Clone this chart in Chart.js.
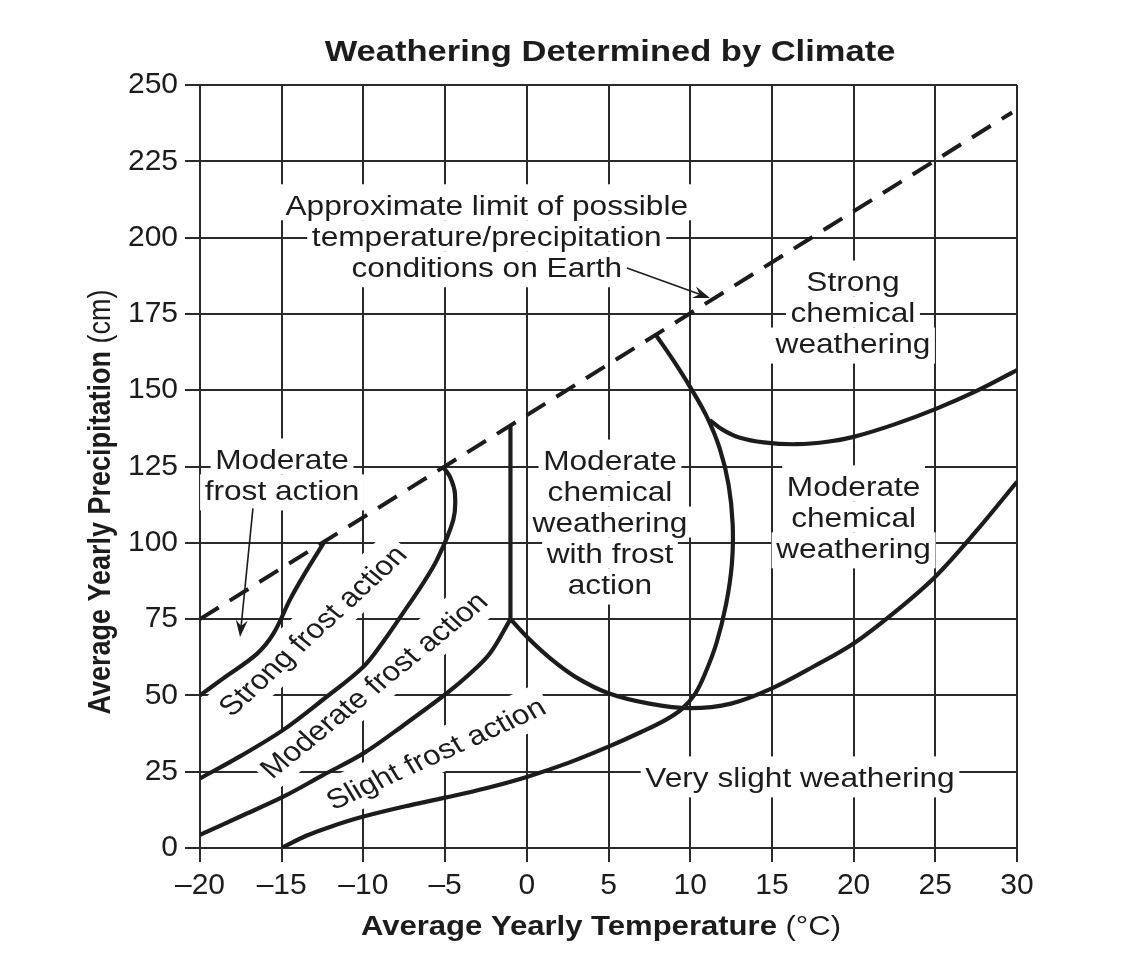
<!DOCTYPE html>
<html>
<head>
<meta charset="utf-8">
<script src="https://cdn.jsdelivr.net/npm/chart.js@4.4.0/dist/chart.umd.min.js"></script>
<style>
  html, body { margin: 0; padding: 0; background: #fff; }
  #wrap { width: 1142px; height: 954px; }
</style>
</head>
<body>
<div id="wrap"><canvas id="chart"></canvas></div>
<script>
// tick labels
const xTickLabels = ['\u201320', '\u201315', '\u201310', '\u20135', '0', '5', '10', '15', '20', '25', '30'];
const yTickLabels = ['0', '25', '50', '75', '100', '125', '150', '175', '200', '225', '250'];

// boundary lines (x = deg C, y = cm)
const limitX = [-20, 29.7];
const limitY = [75, 241];

const strongModX = [-20, -18.6, -16.5, -15.5, -14.5, -13.7, -12.4];
const strongModY = [50, 55.5, 63.7, 70.3, 81.3, 88.9, 100.2];

const strongFrostX = [-20, -17.5, -14.9, -12.5, -10, -8.8, -7.6, -6.5, -5.5, -4.5, -4.4, -4.7, -5.1];
const strongFrostY = [22.8, 30.2, 38.7, 48.5, 59.4, 67.5, 76.8, 85.5, 94.4, 107.5, 116.2, 121.6, 124.7];

const modFrostX = [-20, -17.5, -14.9, -12.5, -10, -7.5, -4.9, -3.5, -2.25, -1];
const modFrostY = [4.3, 10.4, 16.8, 23.8, 31, 40.4, 50.7, 57, 63.8, 75];

const frostWallX = [-1, -1];
const frostWallY = [75, 138.3];

const slightArcX = [-15, -13.5, -12, -10, -7.5, -5, -2.5, 0, 2.5, 5, 7, 8.5, 9.5, 10.3, 10.9, 11.6, 12.2, 12.55, 12.6, 12.35, 11.8, 11, 10, 9, 7.9];
const slightArcY = [0, 4, 7, 10.3, 13.6, 16.5, 19.6, 23.3, 27.8, 33.2, 38, 42, 45.6, 50.5, 57, 67, 80, 93, 106, 119, 131, 141.5, 151, 159.5, 168.1];

const chemLowX = [-1, 0, 1.4, 3, 5, 7.5, 10, 12.5, 15, 17.5, 20, 22.5, 25, 27.5, 30];
const chemLowY = [75, 69.2, 62.3, 56.0, 50.7, 47.3, 45.8, 47.3, 52.3, 59.3, 67, 77.2, 88.9, 103.8, 120];

const chemHighX = [11.2, 12, 13, 14.5, 16.5, 18.5, 20, 22.5, 25, 27.5, 30];
const chemHighY = [140.2, 137, 134.5, 132.9, 132.3, 133.2, 134.7, 138.8, 143.8, 149.7, 156.6];

const FONT = '"Liberation Sans", Arial, Helvetica, sans-serif';
const INK = '#1c1c1c';
const GRID = '#2a2a2a';
const SX = 1.15;      // the figure's lettering is drawn a little wide
const FS = 27.5;
const LH = 31;

// region labels: centre in data units, angle as seen in the figure (degrees)
const regionLabels = [
  { lines: ['Approximate limit of possible', 'temperature/precipitation', 'conditions on Earth'], x: -2.45, y: 200.6 },
  { lines: ['Moderate', 'frost action'], x: -14.98, y: 122.4 },
  { lines: ['Strong', 'chemical', 'weathering'], x: 19.96, y: 175.6 },
  { lines: ['Moderate', 'chemical', 'weathering', 'with frost', 'action'], x: 5.09, y: 106.8 },
  { lines: ['Moderate', 'chemical', 'weathering'], x: 20.0, y: 108.5 },
  { lines: ['Very slight weathering'], x: 16.72, y: 23.3 },
  { lines: ['Strong frost action'], x: -13.15, y: 71.4, angle: -42.5 },
  { lines: ['Moderate frost action'], x: -9.4, y: 53.6, angle: -39 },
  { lines: ['Slight frost action'], x: -5.6, y: 31.2, angle: -24.5 }
];

const arrows = [
  { from: [-16.76, 111.3], to: [-17.55, 69.1] },
  { from: [6.13, 190.0], to: [11.21, 180.2] }
];

function pts(xs, ys) {
  return xs.map((x, i) => ({ x: x, y: ys[i] }));
}

function curve(xs, ys, extra) {
  return Object.assign({
    data: pts(xs, ys),
    showLine: true,
    borderColor: INK,
    borderWidth: 4.2,
    pointRadius: 0,
    tension: 0.35,
    fill: false,
    borderJoinStyle: 'round'
  }, extra || {});
}

function drawBlock(ctx, chart, lab, stage) {
  const cx = chart.scales.x.getPixelForValue(lab.x);
  const cy = chart.scales.y.getPixelForValue(lab.y);
  // undo the horizontal stretch so the drawn angle matches the figure
  const a = lab.angle ? Math.atan(Math.tan(lab.angle * Math.PI / 180) * SX) : 0;
  ctx.save();
  ctx.translate(cx, cy);
  ctx.scale(SX, 1);
  ctx.rotate(a);
  ctx.font = FS + 'px ' + FONT;
  const n = lab.lines.length;
  lab.lines.forEach((t, i) => {
    const ly = (i - (n - 1) / 2) * LH;
    const w = ctx.measureText(t).width;
    if (stage === 'bg') {
      const top = ly - LH / 2 - (i === 0 ? 5 : 0);
      const bot = ly + LH / 2 + (i === n - 1 ? 5 : 0);
      ctx.fillStyle = '#fff';
      ctx.fillRect(-w / 2 - 4, top, w + 8, bot - top);
    } else {
      ctx.fillStyle = INK;
      ctx.textAlign = 'center';
      ctx.textBaseline = 'alphabetic';
      ctx.fillText(t, 0, ly + 0.36 * FS);
    }
  });
  ctx.restore();
}

function drawArrow(ctx, x0, y0, x1, y1) {
  const a = Math.atan2(y1 - y0, x1 - x0);
  const L = 17, W = 6;
  ctx.save();
  ctx.strokeStyle = INK;
  ctx.fillStyle = INK;
  ctx.lineWidth = 1.6;
  ctx.beginPath();
  ctx.moveTo(x0, y0);
  ctx.lineTo(x1 - 8 * Math.cos(a), y1 - 8 * Math.sin(a));
  ctx.stroke();
  ctx.beginPath();
  ctx.moveTo(x1, y1);
  ctx.lineTo(x1 - L * Math.cos(a) + W * Math.sin(a), y1 - L * Math.sin(a) - W * Math.cos(a));
  ctx.lineTo(x1 - 0.65 * L * Math.cos(a), y1 - 0.65 * L * Math.sin(a));
  ctx.lineTo(x1 - L * Math.cos(a) - W * Math.sin(a), y1 - L * Math.sin(a) + W * Math.cos(a));
  ctx.closePath();
  ctx.fill();
  ctx.restore();
}

// text with a bold part and a normal part, centred on (cx, cy)
function drawMixed(ctx, bold, normal, cx, cy, size, rot) {
  ctx.save();
  ctx.translate(cx, cy);
  ctx.scale(SX, 1);
  ctx.rotate(rot);
  ctx.fillStyle = INK;
  ctx.textBaseline = 'alphabetic';
  ctx.textAlign = 'left';
  ctx.font = 'bold ' + size + 'px ' + FONT;
  const wb = ctx.measureText(bold).width;
  ctx.font = size + 'px ' + FONT;
  const wn = normal ? ctx.measureText(normal).width : 0;
  const x0 = -(wb + wn) / 2;
  ctx.font = 'bold ' + size + 'px ' + FONT;
  ctx.fillText(bold, x0, 0.36 * size);
  if (normal) {
    ctx.font = size + 'px ' + FONT;
    ctx.fillText(normal, x0 + wb, 0.36 * size);
  }
  ctx.restore();
}

const decor = {
  id: 'decor',
  beforeDatasetsDraw(chart) {
    const ctx = chart.ctx;
    regionLabels.forEach(l => drawBlock(ctx, chart, l, 'bg'));
  },
  afterDatasetsDraw(chart) {
    const ctx = chart.ctx;
    const sx = chart.scales.x, sy = chart.scales.y;
    regionLabels.forEach(l => drawBlock(ctx, chart, l, 'text'));
    arrows.forEach(a => drawArrow(ctx,
      sx.getPixelForValue(a.from[0]), sy.getPixelForValue(a.from[1]),
      sx.getPixelForValue(a.to[0]), sy.getPixelForValue(a.to[1])));
  },
  afterDraw(chart) {
    const ctx = chart.ctx;
    drawMixed(ctx, 'Weathering Determined by Climate', '', 610, 50, 30, 0);
    drawMixed(ctx, 'Average Yearly Temperature', ' (\u00B0C)', 601, 925, 27, 0);
    drawMixed(ctx, 'Average Yearly Precipitation', ' (cm)', 99, 502, 27, -Math.PI / 2);
  }
};

new Chart(document.getElementById('chart'), {
  type: 'scatter',
  data: {
    datasets: [
      curve(limitX, limitY, { borderDash: [22, 13], tension: 0, borderWidth: 4 }),
      curve(strongModX, strongModY),
      curve(strongFrostX, strongFrostY),
      curve(modFrostX, modFrostY),
      curve(frostWallX, frostWallY, { tension: 0 }),
      curve(slightArcX, slightArcY),
      curve(chemLowX, chemLowY),
      curve(chemHighX, chemHighY)
    ]
  },
  options: {
    responsive: true,
    maintainAspectRatio: false,
    animation: false,
    layout: { padding: { top: 85, right: 125, bottom: 0, left: 0 } },
    plugins: { legend: { display: false }, tooltip: { enabled: false }, title: { display: false } },
    scales: {
      x: {
        type: 'linear', min: -20, max: 30,
        afterFit(s) { s.height = 106; },
        ticks: {
          stepSize: 5, padding: 6, color: INK, maxRotation: 0,
          font: { family: FONT, size: 30 },
          callback: (v, i) => xTickLabels[i]
        },
        grid: { color: GRID, lineWidth: 2, tickLength: 14 },
        border: { color: GRID, width: 2 }
      },
      y: {
        type: 'linear', min: 0, max: 250,
        afterFit(s) { s.width = 200; },
        ticks: {
          stepSize: 25, padding: 7, color: INK,
          font: { family: FONT, size: 30 },
          callback: (v, i) => yTickLabels[i]
        },
        grid: { color: GRID, lineWidth: 2, tickLength: 15 },
        border: { color: GRID, width: 2 }
      }
    }
  },
  plugins: [decor]
});
</script>
</body>
</html>
